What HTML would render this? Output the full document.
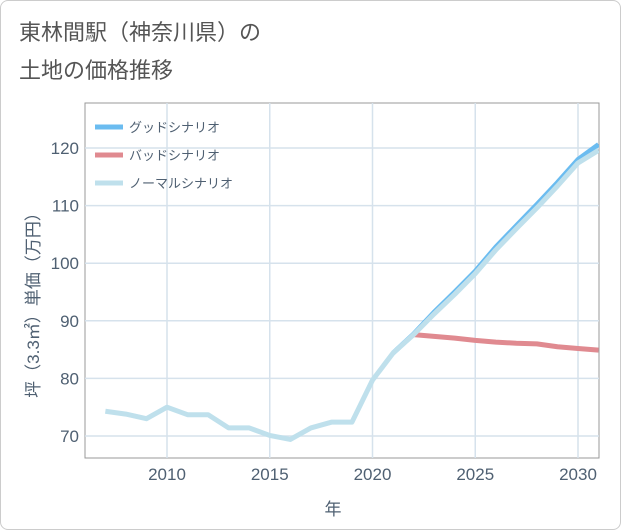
<!DOCTYPE html>
<html><head><meta charset="utf-8"><style>
body{margin:0;background:#fff;}
#c{position:relative;width:621px;height:530px;box-sizing:border-box;border:1px solid #ccc;border-radius:8px;background:#fff;font-family:"Liberation Sans","Noto Sans CJK JP",sans-serif;}
.t{position:absolute;left:18px;color:#555;font-size:22px;}
</style></head><body>
<div id="c">
<div class="t" style="top:14px">東林間駅（神奈川県）の</div>
<div class="t" style="top:52px">土地の価格推移</div>
<svg id="s" width="621" height="530" style="position:absolute;left:0;top:0"><defs><clipPath id="cp"><rect x="84" y="102" width="514" height="355"/></clipPath></defs></svg>
</div>
<script>
const years=[2007,2008,2009,2010,2011,2012,2013,2014,2015,2016,2017,2018,2019,2020,2021,2022,2023,2024,2025,2026,2027,2028,2029,2030,2031];
const normal=[74.3,73.8,73,75,73.7,73.7,71.4,71.4,70.1,69.4,71.4,72.4,72.4,79.7,84.4,87.6,91.2,94.6,98.2,102.3,106,109.6,113.4,117.4,119.6];
const goodYears=[2021,2022,2023,2024,2025,2026,2027,2028,2029,2030,2031];
const good=[84.4,87.7,91.5,95,98.6,102.8,106.5,110.2,114,118,120.6];
const badYears=[2022,2023,2024,2025,2026,2027,2028,2029,2030,2031];
const bad=[87.6,87.3,87,86.6,86.3,86.1,86,85.5,85.2,84.9];
const xTicks=[2010,2015,2020,2025,2030];
const yTicks=[70,80,90,100,110,120];
const L=84,R=598,T=102,B=457;
const TC='#4f6072';
const x=v=>166+(v-2010)*20.55;
const y=v=>435-(v-70)*5.76;
const s=document.getElementById('s');
const NS='http://www.w3.org/2000/svg';
function mk(t,a){const e=document.createElementNS(NS,t);for(const k in a)e.setAttribute(k,a[k]);s.appendChild(e);return e;}
let r=mk('rect',{x:L,y:T,width:R-L,height:B-T,fill:'none',stroke:'#999','stroke-width':1});


xTicks.forEach(v=>{
 let g=mk('line',{x1:x(v),x2:x(v),y1:T,y2:B,stroke:'#d6e2ec','stroke-width':1.5});
 
 
 let t=mk('text',{x:x(v),y:479,'text-anchor':'middle','font-size':17,fill:TC});t.textContent=v;
 
 
});
yTicks.forEach(v=>{
 let g=mk('line',{x1:L,x2:R,y1:y(v),y2:y(v),stroke:'#d6e2ec','stroke-width':1.5});
 
 
 let t=mk('text',{x:78,y:y(v)+6,'text-anchor':'end','font-size':17,fill:TC});t.textContent=v;
 
 
});
function line(xs,ys,c,n){
 let p=mk('polyline',{points:xs.map((v,i)=>x(v)+','+y(ys[i])).join(' '),fill:'none',stroke:c,'stroke-width':5,'stroke-linejoin':'round','clip-path':'url(#cp)'});
 
 
}
line(goodYears,good,'#6bbcf0','good-scenario-line');
line(badYears,bad,'#e08a90','bad-scenario-line');
line(years,normal,'#bfe0ec','normal-scenario-line');
const leg=[['グッドシナリオ','#6bbcf0'],['バッドシナリオ','#e08a90'],['ノーマルシナリオ','#bfe0ec']];
leg.forEach((l,i)=>{
 let yy=126+i*28;
 let a=mk('line',{x1:94,x2:122,y1:yy,y2:yy,stroke:l[1],'stroke-width':5});
 
 
 let t=mk('text',{x:128,y:yy+5,'font-size':13,fill:TC});t.textContent=l[0];
 
 
});
let xt=mk('text',{x:332,y:514,'text-anchor':'middle','font-size':17,fill:TC});xt.textContent='年';


let yt=mk('text',{x:0,y:0,'text-anchor':'middle','font-size':17,fill:TC,transform:'translate(38,300) rotate(-90)'});yt.textContent='坪（3.3㎡）単価（万円）';


</script>
</body></html>
